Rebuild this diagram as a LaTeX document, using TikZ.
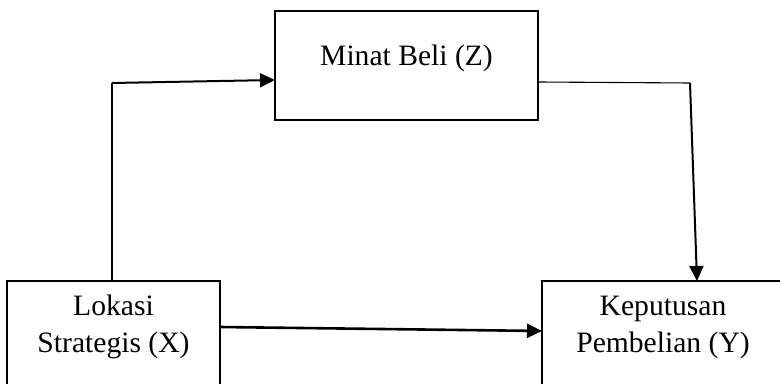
\documentclass[tikz,border=0pt]{standalone}
\usepackage{fontspec}
\setmainfont{Liberation Serif}
\usetikzlibrary{arrows.meta}
\begin{document}
\begin{tikzpicture}[x=0.5pt,y=-0.5pt,
  boxst/.style={draw,line width=1.1pt,rectangle,inner sep=0pt},
  txt/.style={font=\fontsize{14.8}{18.5}\selectfont,align=center,inner sep=0pt},
  thinln/.style={line width=0.55pt},
  thickln/.style={line width=1pt},
  tip/.style={-{Triangle[length=7.5pt,width=7pt]}}]
\useasboundingbox (0,0) rectangle (780,384);
\clip (0,0) rectangle (780,384);
\node[boxst,minimum width=131.5pt,minimum height=54.5pt] (minat) at (406.5,65.5) {};
\node[boxst,minimum width=106.5pt,minimum height=60pt] (lok) at (113.5,341) {};
\node[boxst,minimum width=130pt,minimum height=60pt] (kep) at (672,341) {};
\node[txt] (tminat) at (406.5,58) {Minat Beli (Z)};
\node[txt] (tlok) at (113.5,327) {Lokasi\\Strategis (X)};
\node[txt] (tkep) at (663,327) {Keputusan\\Pembelian (Y)};
\coordinate (c1) at (112,83);
\coordinate (a1) at (275,80);
\coordinate (m1) at (538,82);
\coordinate (c2) at (690,83);
\coordinate (a2) at (697,281);
\coordinate (l1) at (220,327);
\coordinate (k1) at (542,331);
\draw[thinln] (lok.north -| c1) -- (c1);
\draw[thickln,tip] (c1) -- (a1);
\draw[thinln] (m1) -- (c2);
\draw[thickln,tip] (c2) -- (a2);
\draw[line width=1.3pt,tip] (l1) -- (k1);
\end{tikzpicture}
\end{document}
